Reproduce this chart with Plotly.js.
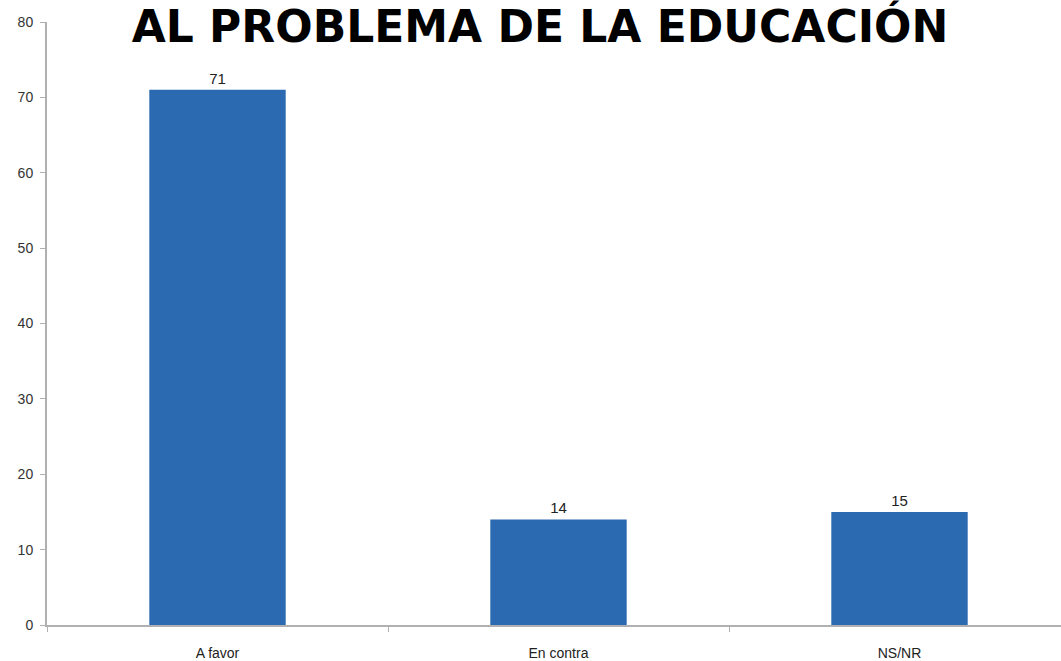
<!DOCTYPE html>
<html>
<head>
<meta charset="utf-8">
<script src="https://cdn.plot.ly/plotly-3.0.1.min.js"></script>
<style>html,body{margin:0;padding:0;background:#fff;overflow:hidden;}#chart{width:1061px;height:661px;overflow:hidden;}</style>
</head>
<body>
<div id="chart"></div>
<script>
const chartTitle = "AL PROBLEMA DE LA EDUCACIÓN";
const categories = ["A favor", "En contra", "NS/NR"];
const values = [71, 14, 15];
const yTicks = [0, 10, 20, 30, 40, 50, 60, 70, 80];

const trace = {
  type: "bar",
  x: categories,
  y: values,
  width: 0.4,
  marker: {color: "#2b69b0", line: {width: 0}},
  text: values.map(String),
  textposition: "outside",
  cliponaxis: false,
  textfont: {family: "Liberation Sans, Arial, sans-serif", size: 15, color: "#222"},
  hoverinfo: "none"
};

const layout = {
  width: 1070,
  height: 661,
  margin: {l: 47, r: 0, t: 22, b: 36, pad: 0},
  paper_bgcolor: "#fff",
  plot_bgcolor: "#fff",
  showlegend: false,
  bargap: 0.6,
  title: {
    text: "<b>" + chartTitle + "</b>",
    font: {family: "DejaVu Sans, Liberation Sans, sans-serif", size: 44, color: "#000"},
    x: 540 / 1070, xanchor: "center",
    xref: "container",
    y: 1 - 11 / 661, yref: "container", yanchor: "top",
    pad: {t: 0}
  },
  xaxis: {
    type: "category",
    range: [-0.5, 2.5],
    showline: true, linecolor: "#b0b0b0", linewidth: 2,
    ticks: "outside", tickson: "boundaries", ticklen: 5, tickcolor: "#b0b0b0",
    showgrid: false, zeroline: false,
    ticklabelstandoff: 14,
    tickfont: {family: "Liberation Sans, Arial, sans-serif", size: 14, color: "#222"}
  },
  yaxis: {
    range: [0, 80],
    tickvals: yTicks,
    showline: true, linecolor: "#b0b0b0", linewidth: 2,
    ticks: "outside", ticklen: 5, tickcolor: "#b0b0b0",
    showgrid: false, zeroline: false,
    ticklabelstandoff: 4,
    tickfont: {family: "Liberation Sans, Arial, sans-serif", size: 14, color: "#333"}
  }
};

Plotly.newPlot("chart", [trace], layout, {displayModeBar: false, staticPlot: true});
</script>
</body>
</html>
